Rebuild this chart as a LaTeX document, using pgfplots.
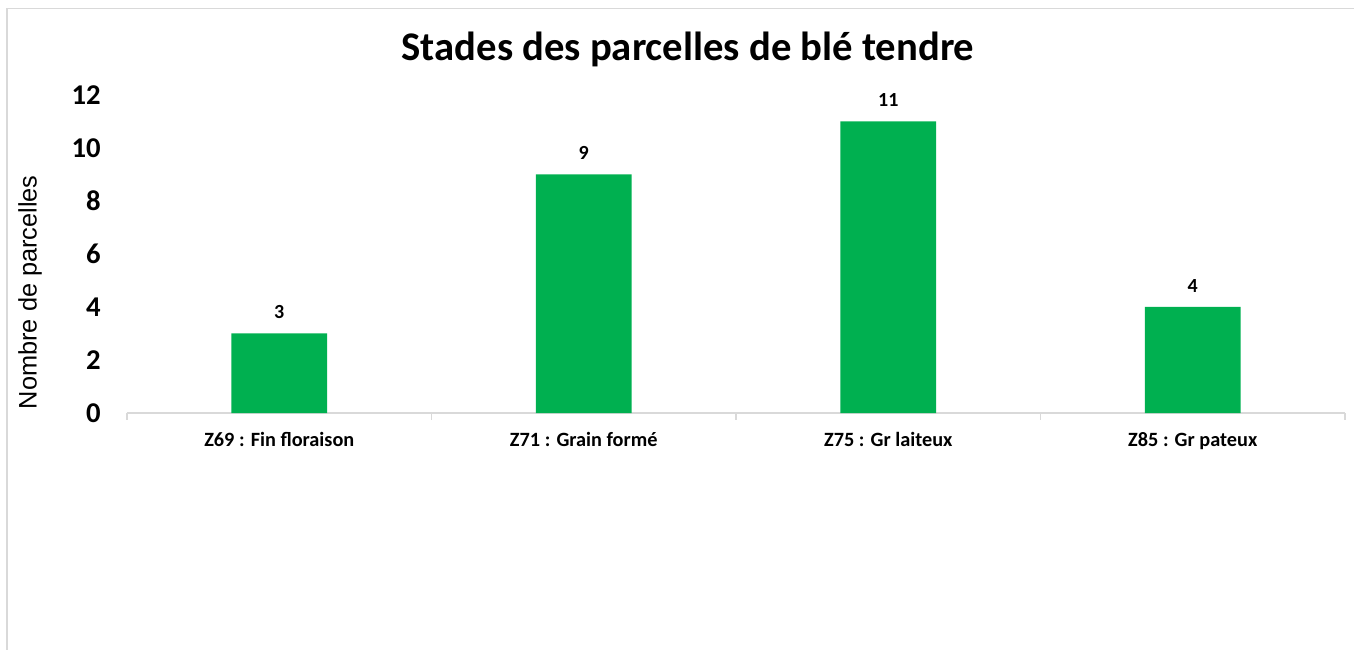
\documentclass[border=0pt]{standalone}
\usepackage{pgfplots}
\pgfplotsset{compat=1.18}
\usepackage{fontspec}
\setmainfont{Carlito}
\newfontfamily\arialfont{Liberation Sans}
\definecolor{barg}{HTML}{00B050}
\definecolor{axg}{HTML}{D9D9D9}
\begin{document}
\begin{tikzpicture}
\useasboundingbox (-95.25pt,-177.75pt) rectangle (920.25pt,309.75pt);
\draw[axg, line width=1.4pt] (-89.8pt,-200pt) -- (-89.8pt,303.4pt) -- (940pt,303.4pt);
\begin{axis}[
  at={(0,0)}, anchor=south west,
  scale only axis, width=913.5pt, height=238.5pt,
  xmin=-0.5, xmax=3.5, ymin=0, ymax=12,
  /pgf/number format/assume math mode=true,
  axis y line=none,
  axis x line*=bottom,
  x axis line style={axg, line width=1pt, -},
  xtick={-0.5,0.5,1.5,2.5,3.5},
  xticklabels={},
  major x tick style={axg, line width=1pt},
  major tick length=5pt, tick align=outside,
  extra x ticks={0,1,2,3},
  extra x tick labels={Z69 : Fin floraison, Z71 : Grain formé, Z75 : Gr laiteux, Z85 : Gr pateux},
  extra x tick style={major tick length=0pt, tick style={draw=none}},
  xticklabel style={font=\fontsize{15.2}{17}\selectfont\bfseries, anchor=north, inner sep=0pt, yshift=-14.2pt},
  title={Stades des parcelles de blé tendre},
  title style={font=\fontsize{30.5}{34}\selectfont\bfseries, at={(axis description cs:0.4606,1.118)}, anchor=center},
  ybar, bar width=0.315,
  nodes near coords,
  nodes near coords style={font=\fontsize{15}{17}\selectfont\bfseries, anchor=south, inner sep=0pt, yshift=11pt, black},
  clip=false,
]
\addplot[fill=barg, draw=none] coordinates {(0,3) (1,9) (2,11) (3,4)};
\end{axis}
\begin{axis}[
  at={(0,0)}, anchor=south west,
  scale only axis, width=913.5pt, height=238.5pt,
  xmin=-0.5, xmax=3.5, ymin=0, ymax=12,
  /pgf/number format/assume math mode=true,
  axis x line=none, axis y line*=left,
  y axis line style={draw=none},
  ytick={0,2,4,6,8,10,12},
  major y tick style={draw=none},
  yticklabel style={font=\fontsize{21.5}{24}\selectfont\bfseries, anchor=east, inner sep=0pt, xshift=-19.5pt},
  ylabel={Nombre de parcelles},
  ylabel style={font=\arialfont\fontsize{19}{21}\selectfont, at={(axis description cs:-0.0796,0.380)}, anchor=center, rotate=0},
]
\end{axis}
\end{tikzpicture}
\end{document}
